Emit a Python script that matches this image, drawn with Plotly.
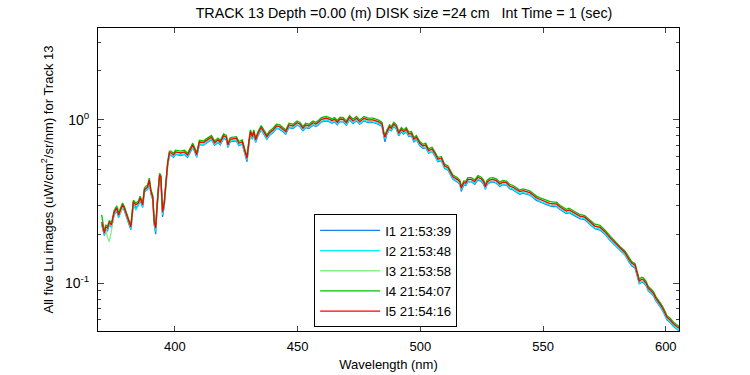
import plotly.graph_objects as go

wavelength_nm = [370.2,371.3,371.9,372.6,373.3,374.2,375.3,376.3,377.1,378.0,
378.7,379.4,380.5,381.5,382.1,383.1,384.1,385.1,385.9,386.9,
387.6,388.2,388.9,389.6,390.3,391.0,391.6,392.2,392.7,393.3,
393.8,394.3,395.0,395.7,396.4,397.1,397.8,398.4,399.5,400.3,
402.4,403.9,405.2,407.3,408.2,408.9,410.0,411.7,412.8,414.9,
416.2,417.6,418.5,419.9,421.0,421.6,422.6,423.7,425.1,426.1,
427.5,428.4,429.4,430.2,430.8,431.6,432.2,432.9,433.9,435.2,
436.2,437.5,438.6,440.0,441.4,442.7,444.1,445.2,446.5,448.1,
449.8,450.9,452.2,453.3,454.6,456.3,457.4,458.3,459.7,461.7,
463.1,464.0,465.1,466.2,467.2,468.5,469.9,471.2,472.6,474.0,
475.3,477.1,478.7,480.7,482.8,484.4,485.1,485.6,486.4,487.5,
488.2,489.2,490.3,491.2,492.3,493.2,494.3,495.3,496.4,497.4,
498.4,499.8,501.1,502.2,503.4,504.8,505.9,507.2,508.6,509.9,
511.3,512.4,513.3,515.0,516.1,516.7,517.7,518.5,519.4,520.8,
522.2,523.5,524.9,525.8,526.5,527.2,528.3,529.6,531.0,532.4,
533.7,535.1,536.4,537.8,539.2,540.5,541.9,543.2,544.6,545.9,
547.3,548.6,550.0,551.4,552.7,554.1,555.5,556.8,558.2,559.5,
560.6,562.9,565.0,567.0,569.1,571.1,573.2,575.2,577.2,579.3,
581.3,583.4,585.0,586.1,587.5,588.4,589.2,590.2,590.9,592.0,
592.9,594.0,595.0,596.0,597.0,598.2,599.1,600.5,601.8,603.2,
604.6,605.5]

lu_I1 = [0.229,0.196,0.213,0.210,0.229,0.220,0.263,0.279,0.253,0.271,
0.291,0.279,0.246,0.226,0.213,0.304,0.291,0.299,0.321,0.291,
0.360,0.370,0.375,0.414,0.349,0.326,0.229,0.200,0.283,0.370,
0.444,0.432,0.255,0.299,0.402,0.526,0.606,0.606,0.590,0.615,
0.606,0.615,0.590,0.678,0.632,0.590,0.707,0.701,0.721,0.757,
0.701,0.728,0.704,0.773,0.757,0.678,0.735,0.738,0.745,0.695,
0.710,0.632,0.555,0.710,0.818,0.762,0.818,0.728,0.800,0.870,
0.818,0.762,0.807,0.839,0.887,0.878,0.846,0.818,0.899,0.887,
0.929,0.912,0.859,0.899,0.887,0.929,0.912,0.929,0.975,0.988,
0.975,0.955,0.975,0.934,0.975,0.975,0.929,1.003,0.951,0.988,
0.942,0.988,0.965,0.965,0.942,0.912,0.800,0.735,0.818,0.878,
0.859,0.912,0.878,0.800,0.846,0.818,0.846,0.792,0.800,0.735,
0.757,0.695,0.669,0.678,0.626,0.641,0.603,0.555,0.563,0.505,
0.492,0.455,0.433,0.418,0.404,0.365,0.399,0.396,0.418,0.418,
0.404,0.430,0.420,0.404,0.376,0.401,0.414,0.418,0.410,0.392,
0.401,0.399,0.380,0.373,0.363,0.351,0.356,0.351,0.346,0.335,
0.322,0.316,0.309,0.305,0.298,0.295,0.295,0.284,0.274,0.267,
0.271,0.259,0.249,0.245,0.230,0.216,0.212,0.200,0.184,0.171,
0.158,0.149,0.135,0.128,0.124,0.108,0.0994,0.102,0.101,0.0965,
0.0899,0.0869,0.0838,0.0781,0.0745,0.0701,0.0662,0.0597,0.0575,0.0543,
0.0523,0.0511]

lu_I2 = [0.231,0.198,0.215,0.213,0.231,0.222,0.266,0.282,0.255,0.274,
0.294,0.282,0.249,0.228,0.215,0.307,0.280,0.302,0.325,0.294,
0.364,0.373,0.379,0.418,0.353,0.330,0.231,0.208,0.286,0.373,
0.449,0.437,0.262,0.302,0.407,0.531,0.612,0.612,0.596,0.621,
0.612,0.621,0.596,0.685,0.639,0.596,0.715,0.708,0.728,0.764,
0.708,0.735,0.712,0.781,0.764,0.685,0.743,0.746,0.753,0.702,
0.718,0.639,0.568,0.718,0.827,0.770,0.827,0.735,0.808,0.879,
0.827,0.770,0.815,0.847,0.896,0.887,0.855,0.827,0.909,0.896,
0.939,0.921,0.868,0.909,0.896,0.939,0.921,0.939,0.985,0.998,
0.985,0.965,0.985,0.944,0.985,0.985,0.939,1.013,0.961,0.998,
0.952,0.998,0.975,0.975,0.952,0.921,0.808,0.764,0.827,0.887,
0.868,0.921,0.887,0.808,0.855,0.827,0.855,0.800,0.808,0.743,
0.764,0.702,0.676,0.685,0.633,0.647,0.609,0.561,0.568,0.510,
0.497,0.460,0.438,0.422,0.409,0.372,0.403,0.400,0.422,0.422,
0.409,0.435,0.424,0.409,0.380,0.406,0.418,0.422,0.414,0.396,
0.406,0.403,0.384,0.377,0.367,0.355,0.360,0.355,0.350,0.338,
0.326,0.319,0.312,0.308,0.301,0.298,0.298,0.287,0.277,0.270,
0.274,0.261,0.252,0.248,0.232,0.218,0.215,0.202,0.186,0.173,
0.160,0.150,0.137,0.130,0.126,0.109,0.100,0.103,0.102,0.0975,
0.0909,0.0878,0.0846,0.0789,0.0753,0.0708,0.0669,0.0604,0.0581,0.0549,
0.0528,0.0517]

lu_I3 = [0.237,0.203,0.212,0.190,0.180,0.210,0.273,0.300,0.285,0.268,
0.302,0.289,0.255,0.234,0.221,0.315,0.302,0.310,0.333,0.302,
0.373,0.383,0.389,0.429,0.362,0.338,0.237,0.218,0.293,0.383,
0.460,0.448,0.273,0.310,0.417,0.545,0.628,0.628,0.611,0.637,
0.628,0.637,0.611,0.703,0.655,0.611,0.733,0.726,0.747,0.784,
0.726,0.754,0.730,0.801,0.784,0.703,0.762,0.765,0.772,0.720,
0.736,0.655,0.583,0.736,0.848,0.790,0.848,0.754,0.829,0.902,
0.848,0.790,0.836,0.869,0.919,0.910,0.877,0.848,0.932,0.919,
0.963,0.945,0.890,0.932,0.919,0.963,0.945,0.963,1.010,1.024,
1.010,0.990,1.010,0.968,1.010,1.010,0.963,1.039,0.986,1.024,
0.976,1.024,1.000,1.000,0.976,0.945,0.829,0.784,0.848,0.910,
0.890,0.945,0.910,0.829,0.877,0.848,0.877,0.821,0.829,0.762,
0.784,0.720,0.693,0.703,0.649,0.664,0.625,0.575,0.583,0.523,
0.510,0.472,0.449,0.433,0.419,0.382,0.413,0.410,0.433,0.433,
0.419,0.446,0.435,0.419,0.390,0.416,0.429,0.433,0.425,0.406,
0.416,0.413,0.394,0.387,0.376,0.364,0.369,0.364,0.359,0.347,
0.334,0.327,0.320,0.316,0.309,0.306,0.306,0.294,0.284,0.277,
0.281,0.268,0.258,0.254,0.238,0.224,0.220,0.207,0.191,0.177,
0.164,0.154,0.140,0.133,0.129,0.112,0.103,0.106,0.105,0.100,
0.0932,0.0901,0.0868,0.0809,0.0772,0.0726,0.0686,0.0619,0.0596,0.0563,
0.0542,0.0530]

lu_I4 = [0.262,0.208,0.227,0.223,0.243,0.234,0.280,0.296,0.269,0.288,
0.310,0.296,0.261,0.240,0.227,0.323,0.310,0.318,0.341,0.310,
0.382,0.393,0.399,0.440,0.371,0.346,0.243,0.223,0.300,0.393,
0.472,0.459,0.280,0.318,0.427,0.559,0.644,0.644,0.626,0.653,
0.644,0.653,0.626,0.721,0.671,0.626,0.751,0.744,0.766,0.804,
0.744,0.773,0.748,0.821,0.804,0.721,0.781,0.784,0.791,0.738,
0.754,0.671,0.598,0.754,0.869,0.810,0.869,0.773,0.850,0.925,
0.869,0.810,0.857,0.891,0.942,0.933,0.899,0.869,0.955,0.942,
0.987,0.969,0.912,0.955,0.942,0.987,0.969,0.987,1.035,1.050,
1.035,1.015,1.035,0.992,1.035,1.035,0.987,1.065,1.011,1.050,
1.000,1.050,1.025,1.025,1.000,0.969,0.850,0.804,0.869,0.933,
0.912,0.969,0.933,0.850,0.899,0.869,0.899,0.842,0.850,0.781,
0.804,0.738,0.710,0.721,0.665,0.681,0.641,0.589,0.598,0.536,
0.523,0.484,0.460,0.444,0.429,0.392,0.423,0.420,0.444,0.444,
0.429,0.457,0.446,0.429,0.400,0.426,0.440,0.444,0.436,0.416,
0.426,0.423,0.404,0.397,0.385,0.373,0.378,0.373,0.368,0.356,
0.342,0.335,0.328,0.324,0.317,0.314,0.314,0.301,0.291,0.284,
0.288,0.275,0.264,0.260,0.244,0.230,0.226,0.212,0.196,0.181,
0.168,0.158,0.144,0.136,0.132,0.115,0.106,0.109,0.108,0.103,
0.0955,0.0924,0.0890,0.0829,0.0791,0.0744,0.0703,0.0634,0.0611,0.0577,
0.0556,0.0543]

lu_I5 = [0.237,0.203,0.221,0.218,0.237,0.228,0.273,0.289,0.262,0.281,
0.302,0.289,0.255,0.234,0.221,0.315,0.302,0.310,0.333,0.302,
0.373,0.383,0.389,0.429,0.362,0.338,0.237,0.218,0.293,0.383,
0.460,0.448,0.273,0.310,0.417,0.545,0.628,0.628,0.611,0.637,
0.628,0.637,0.611,0.703,0.655,0.611,0.733,0.726,0.747,0.784,
0.726,0.754,0.730,0.801,0.784,0.703,0.762,0.765,0.772,0.720,
0.736,0.655,0.583,0.736,0.848,0.790,0.848,0.754,0.829,0.902,
0.848,0.790,0.836,0.869,0.919,0.910,0.877,0.848,0.932,0.919,
0.963,0.945,0.890,0.932,0.919,0.963,0.945,0.963,1.010,1.024,
1.010,0.990,1.010,0.968,1.010,1.010,0.963,1.039,0.986,1.024,
0.976,1.024,1.000,1.000,0.976,0.945,0.829,0.784,0.848,0.910,
0.890,0.945,0.910,0.829,0.877,0.848,0.877,0.821,0.829,0.762,
0.784,0.720,0.693,0.703,0.649,0.664,0.625,0.575,0.583,0.523,
0.510,0.472,0.449,0.433,0.419,0.382,0.413,0.410,0.433,0.433,
0.419,0.446,0.435,0.419,0.390,0.416,0.429,0.433,0.425,0.406,
0.416,0.413,0.394,0.387,0.376,0.364,0.369,0.364,0.359,0.347,
0.334,0.327,0.320,0.316,0.309,0.306,0.306,0.294,0.284,0.277,
0.281,0.268,0.258,0.254,0.238,0.224,0.220,0.207,0.191,0.177,
0.164,0.154,0.140,0.133,0.129,0.112,0.103,0.106,0.105,0.100,
0.0932,0.0901,0.0868,0.0809,0.0772,0.0726,0.0686,0.0619,0.0596,0.0563,
0.0542,0.0530]

series_names = ["I1 21:53:39", "I2 21:53:48", "I3 21:53:58", "I4 21:54:07", "I5 21:54:16"]
series_values = [lu_I1, lu_I2, lu_I3, lu_I4, lu_I5]
series_colors = ["#1a7ff0", "#00f0ff", "#88f088", "#00c000", "#ff0000"]

x_tick_vals = [400, 450, 500, 550, 600]
y_tick_vals = [0.1, 1]
y_tick_text = ["10<sup>-1</sup>", "10<sup>0</sup>"]
y_minor_vals = [0.06, 0.07, 0.08, 0.09, 0.2, 0.3, 0.4, 0.5, 0.6, 0.7, 0.8, 0.9, 2, 3]

FONT = "Liberation Sans, Arial, sans-serif"

fig = go.Figure()
for name, vals, col in zip(series_names, series_values, series_colors):
    fig.add_trace(go.Scatter(x=wavelength_nm, y=vals, mode="lines", name=name,
                             line=dict(color=col, width=1.3)))

fig.update_layout(
    width=750, height=375,
    margin=dict(l=98, r=71, t=28, b=44, autoexpand=False),
    paper_bgcolor="white", plot_bgcolor="white",
    font=dict(family=FONT, size=12, color="black"),
    title=dict(text="TRACK 13 Depth =0.00 (m) DISK size =24 cm\u00a0\u00a0\u00a0Int Time = 1 (sec)",
               x=404/750, xanchor="center", y=1-13/375, yanchor="middle", yref="container",
               font=dict(family=FONT, size=14.3, color="black")),
    showlegend=True,
    legend=dict(x=0.372, y=0.385, xanchor="left", yanchor="top",
                bordercolor="black", borderwidth=1, bgcolor="white",
                font=dict(family=FONT, size=13.2, color="black"),
                itemwidth=60, tracegroupgap=0),
    xaxis=dict(range=[368.7, 605.4], tickvals=x_tick_vals, ticks="inside", ticklen=5,
               showline=True, linecolor="black", linewidth=1, mirror="ticks",
               showgrid=False, zeroline=False, automargin=False,
               tickfont=dict(size=13), ticklabelstandoff=3,
               title=dict(text="Wavelength (nm)", standoff=7, font=dict(size=13))),
    yaxis=dict(type="log", range=[-1.292, 0.563], tickvals=y_tick_vals, ticktext=y_tick_text,
               ticks="inside", ticklen=6, showline=True, linecolor="black", linewidth=1,
               mirror="ticks", showgrid=False, zeroline=False, automargin=False,
               minor=dict(tickvals=y_minor_vals, ticks="inside", ticklen=3, showgrid=False),
               tickfont=dict(size=14), ticklabelstandoff=5,
               title=dict(text="All five Lu images (uW/cm<sup>2</sup>/sr/nm) for Track 13",
                          standoff=8, font=dict(size=13))),
)

fig.write_html("out.html", config={"displayModeBar": False},
               post_script="document.body.style.margin='0';document.body.style.padding='0';")
